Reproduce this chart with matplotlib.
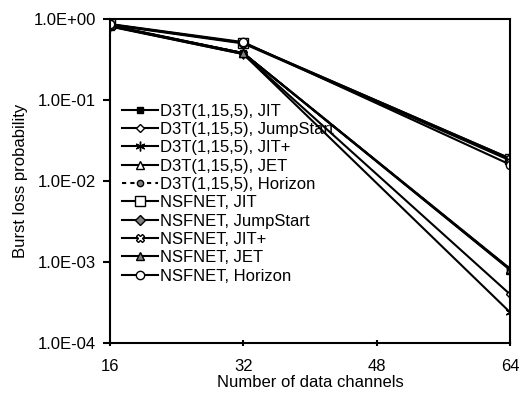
import matplotlib
matplotlib.use("Agg")
import matplotlib.pyplot as plt
from matplotlib.ticker import FixedLocator, NullLocator

plt.rcParams['font.family'] = ['Liberation Sans', 'DejaVu Sans']

channels = [16, 32, 64]

d3t_jit = [0.83, 0.38, 8.3e-4]
d3t_jumpstart = [0.82, 0.37, 4.0e-4]
d3t_jitplus = [0.81, 0.37, 2.4e-4]
d3t_jet = [0.82, 0.38, 8.0e-4]
d3t_horizon = [0.83, 0.38, 8.2e-4]
nsf_jit = [0.86, 0.51, 0.019]
nsf_jumpstart = [0.85, 0.50, 0.018]
nsf_jitplus = [0.86, 0.51, 0.019]
nsf_jet = [0.84, 0.38, 8.1e-4]
nsf_horizon = [0.87, 0.52, 0.016]

labels = ["D3T(1,15,5), JIT", "D3T(1,15,5), JumpStart", "D3T(1,15,5), JIT+",
          "D3T(1,15,5), JET", "D3T(1,15,5), Horizon", "NSFNET, JIT",
          "NSFNET, JumpStart", "NSFNET, JIT+", "NSFNET, JET", "NSFNET, Horizon"]
series = [d3t_jit, d3t_jumpstart, d3t_jitplus, d3t_jet, d3t_horizon,
          nsf_jit, nsf_jumpstart, nsf_jitplus, nsf_jet, nsf_horizon]

styles = [
    dict(marker='s', mfc='black', mec='black', ms=5, ls='-'),
    dict(marker='D', mfc='white', mec='black', ms=4.5, ls='-'),
    dict(marker=(6, 2, 0), mfc='black', mec='black', ms=7, ls='-'),
    dict(marker='^', mfc='white', mec='black', ms=6, ls='-'),
    dict(marker='o', mfc='gray', mec='black', ms=4.5, ls=(0, (2, 2))),
    dict(marker='s', mfc='white', mec='black', ms=7, ls='-'),
    dict(marker='D', mfc='gray', mec='black', ms=5, ls='-'),
    dict(marker='X', mfc='white', mec='black', ms=6, ls='-'),
    dict(marker='^', mfc='gray', mec='black', ms=6, ls='-'),
    dict(marker='o', mfc='white', mec='black', ms=6, ls='-'),
]

fig = plt.figure(figsize=(5.21, 3.98), dpi=100)
ax = fig.add_axes([0.211, 0.138, 0.768, 0.814])

for y, lab, st in zip(series, labels, styles):
    ax.plot(channels, y, color='black', lw=1.5, label=lab, mew=1, **st)

ax.set_yscale('log')
ax.set_ylim(1e-4, 1.0)
ax.set_xlim(16, 64)
ax.xaxis.set_major_locator(FixedLocator([16, 32, 48, 64]))
ax.yaxis.set_major_locator(FixedLocator([1e-4, 1e-3, 1e-2, 1e-1, 1.0]))
ax.yaxis.set_minor_locator(NullLocator())
ax.set_yticklabels(["1.0E-04", "1.0E-03", "1.0E-02", "1.0E-01", "1.0E+00"])
ax.tick_params(axis='both', labelsize=12, width=1.5, length=5, color='black')
ax.tick_params(axis='x', direction='inout', pad=9)
ax.tick_params(axis='y', direction='out', pad=5)
for s in ax.spines.values():
    s.set_linewidth(1.5)
ax.set_xlabel("Number of data channels", fontsize=12, labelpad=1)
ax.set_ylabel("Burst loss probability", fontsize=12, labelpad=4)

ax.legend(loc='upper left', bbox_to_anchor=(0.0, 0.775), frameon=False,
          fontsize=12, labelspacing=0.2, handlelength=2.2, handletextpad=0.1,
          borderaxespad=0.3)

fig.savefig("out.png", dpi=100)
